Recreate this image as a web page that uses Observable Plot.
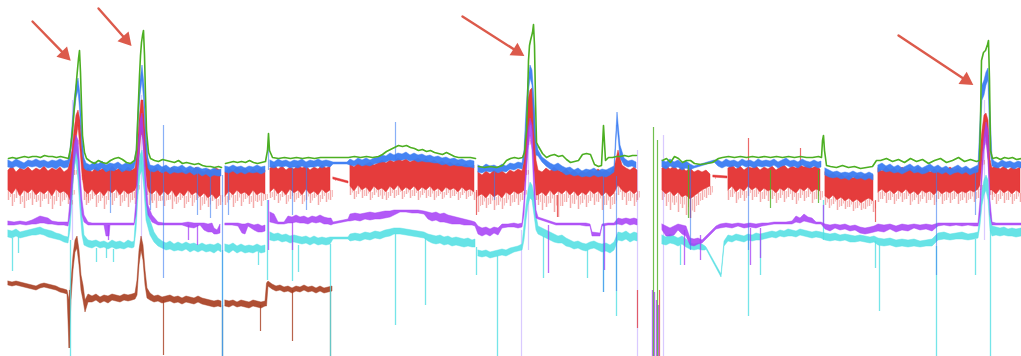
<!DOCTYPE html>
<html>
<head>
<meta charset="utf-8">
<script src="https://cdn.jsdelivr.net/npm/d3@7"></script>
<script src="https://cdn.jsdelivr.net/npm/@observablehq/plot@0.6"></script>
<style>
  html, body { margin: 0; padding: 0; background: #ffffff; }
  #chart { width: 1021px; height: 356px; overflow: hidden; }
</style>
</head>
<body>
<div id="chart"></div>
<script>
// Level units: 0 = top of the trace area, 356 = bottom.
// Rows: [time, top, bottom(, deep)]; a null row breaks the trace.

const redBand = [
  [8,170,190,200],[12,166,194,206],[16,172,188,198],[20,168,196,204],[24,170,190,208],[28,167,193,200],[32,171,189,205],[36,168,195,202],[40,170,191,207],[44,166,194,199],[48,171,190,204],[52,168,196,209],[56,170,189,201],[60,167,193,206],[64,172,191,200],[68,169,195,204],
  [70,160,200,205],[72,150,190,195],[74,130,170,175],[76,115,140,145],[78,110,125,130],[80,120,150,150],[82,150,175,180],[84,165,190,200],[86,170,192,205],
  [88,168,194,203],[92,172,189,199],[96,167,195,207],[100,170,191,201],[104,168,196,209],[108,171,190,200],[112,166,193,205],[116,170,189,198],[120,168,195,206],[124,171,190,201],[128,167,194,207],[132,170,192,200],[135,168,190,204],
  [137,150,185,190],[139,120,160,165],[141,100,130,135],[143,100,140,140],[145,130,165,170],[147,160,185,195],[149,168,192,205],
  [152,170,194,203],[156,167,190,208],[160,172,196,201],[164,168,191,206],[168,171,195,200],[172,167,190,209],[176,170,197,204],[180,168,192,200],[184,172,196,208],[188,169,190,202],[192,171,195,206],[196,167,192,200],[200,170,197,210],[204,172,193,204],[208,169,198,207],[212,171,194,201],[216,168,199,209],[220,170,195,205],
  [223,null,null,null],
  [225,172,196,205],[229,168,191,200],[233,171,195,207],[237,167,190,201],[241,170,194,206],[245,168,192,199],[249,172,196,204],[253,169,190,208],[257,171,195,202],[261,168,192,206],[265,170,194,200],
  [267,null,null,null],
  [270,168,192,198],[274,165,188,200],[278,169,194,203],[282,166,190,197],[286,170,195,204],[290,167,189,199],[294,169,193,202],[298,165,190,198],[302,168,195,204],[306,166,189,200],[310,170,194,203],[314,167,191,198],[318,169,195,205],[322,165,189,199],[326,168,193,202],[330,166,190,200],
  [332,null,null,null],
  [333,177,179,179],[348,181,183,183],
  [349,null,null,null],
  [350,164,186,195],[354,167,191,199],[358,163,185,194],[362,166,190,198],[366,164,187,196],[370,162,192,200],[374,165,186,195],[378,163,190,197],[382,160,188,199],[386,163,192,200],[390,160,186,196],[394,162,190,198],[398,158,185,195],[402,161,191,199],[406,159,187,194],[410,162,190,198],[414,160,186,196],[418,158,191,200],[422,161,187,195],[426,159,190,198],[430,162,186,197],[434,160,191,200],[438,163,188,196],[442,161,192,199],[446,164,187,195],[450,162,190,198],[454,165,188,196],[458,163,192,200],[462,166,187,195],[466,164,191,199],[470,167,189,196],[474,165,192,200],
  [476,null,null,null],
  [478,172,196,212],[482,175,194,205],[486,171,198,208],[490,174,193,204],[494,170,197,210],[498,173,194,205],[502,171,198,209],[506,174,192,203],[510,170,195,206],[514,172,191,202],[518,169,194,205],[522,171,192,200],
  [524,160,190,195],[526,130,170,175],[528,100,140,145],[530,90,120,125],[532,88,130,130],[534,110,170,170],[536,160,195,200],
  [538,170,195,205],[542,172,192,210],[546,168,196,207],[550,171,190,203],[554,167,195,212],[558,170,191,217],[562,172,194,206],[566,169,190,202],[570,173,195,208],[574,170,191,204],[578,174,196,209],[582,171,192,203],[586,173,195,207],[590,170,190,201],[594,172,194,205],[598,169,191,202],[602,172,196,210],[606,170,192,205],[610,173,197,209],[614,168,193,204],[618,150,185,195],[622,165,190,200],[626,168,193,205],[630,170,190,201],[634,167,194,206],[637,170,191,200],
  [640,null,null,null],
  [662,168,190,200],[666,165,194,206],[670,169,191,210],[674,166,196,205],[678,170,192,212],[682,167,197,208],[686,171,195,215],[690,168,199,218],[694,172,196,212],[698,170,193,205],[702,172,190,200],[706,170,188,198],[710,174,186,195],
  [712,null,null,null],
  [713,175,177,177],[727,176,178,178],
  [727.5,null,null,null],
  [728,168,190,200],[732,165,186,197],[736,169,192,203],[740,166,188,198],[744,170,191,201],[748,167,186,196],[752,168,190,200],[756,166,187,197],[760,170,192,202],[764,167,188,199],[768,169,191,201],[772,166,189,199],[776,170,193,203],[780,167,188,198],[784,165,191,202],[788,169,187,197],[792,166,190,200],[796,168,193,204],[800,165,188,198],[804,167,191,201],[808,165,187,197],[812,168,192,203],[816,166,189,199],[820,169,191,200],
  [823,null,null,null],
  [825,172,196,205],[829,175,199,208],[833,173,195,204],[837,176,200,210],[841,174,197,206],[845,177,201,209],[849,175,198,207],[853,178,202,211],[857,175,199,208],[861,177,203,210],[865,174,200,209],[869,176,198,206],[873,175,201,212],
  [876,null,null,null],
  [878,168,192,202],[882,171,189,199],[886,167,193,203],[890,170,190,200],[894,168,194,204],[898,171,190,199],[902,167,193,202],[906,170,189,199],[910,168,194,205],[914,171,191,200],[918,167,195,204],[922,170,190,199],[926,168,193,203],[930,172,191,200],[934,169,195,205],[938,171,190,199],[942,168,194,204],[946,170,191,200],[950,167,193,203],[954,170,190,199],[958,168,194,204],[962,171,191,200],[966,168,193,203],[970,170,190,199],[974,168,192,202],[978,170,189,198],
  [980,150,185,190],[982,130,160,165],[984,115,140,145],[986,113,135,140],[988,120,160,160],[990,160,190,195],
  [992,168,190,200],[996,165,194,204],[1000,169,189,199],[1004,166,193,203],[1008,170,190,200],[1012,167,194,204],[1016,169,190,199],[1020,167,193,202]
];

const blueBand = [
  [8,160,167],[12,162,168],[16,159,166],[20,161,168],[24,163,169],[28,160,166],[32,161,167],[36,159,166],[40,161,168],[44,160,166],[48,162,168],[52,160,167],[56,161,169],[60,159,166],[64,161,168],[68,160,167],
  [70,150,160],[72,125,140],[74,100,115],[76,85,98],[78,78,90],[80,95,115],[82,135,150],[84,158,168],
  [86,163,170],[90,165,171],[94,162,169],[98,164,171],[102,161,168],[106,165,172],[110,163,170],[114,164,171],[118,162,168],[122,165,172],[126,163,170],[130,164,171],[134,162,168],
  [136,150,160],[138,110,125],[140,80,95],[142,65,80],[144,85,105],[146,130,150],[148,158,168],
  [150,165,171],[154,166,172],[158,164,170],[162,167,173],[166,165,171],[170,168,174],[174,166,172],[178,167,173],[182,165,172],[186,168,174],[190,166,172],[194,168,175],[198,167,173],[202,169,176],[206,168,174],[210,170,177],[214,168,175],[218,170,176],[221,169,176],
  [223,null,null],
  [225,166,172],[229,167,173],[233,165,171],[237,167,174],[241,166,172],[245,168,174],[249,166,172],[253,167,173],[257,165,172],[261,167,174],[265,166,172],
  [267,null,null],
  [270,160,167],[274,162,168],[278,159,166],[282,161,167],[286,160,166],[290,162,168],[294,160,167],[298,161,168],[302,159,166],[306,162,168],[310,160,167],[314,161,167],[318,159,166],[322,161,168],[326,160,166],[330,161,167],
  [333,162,164],[347,162,164],
  [350,159,165],[354,161,166],[358,158,164],[362,160,166],[366,158,165],[370,160,166],[374,158,164],[378,157,163],[382,155,162],[386,156,162],[390,153,160],[394,155,161],[398,153,160],[402,154,160],[406,152,159],[410,155,161],[414,153,160],[418,155,162],[422,154,161],[426,156,162],[430,155,162],[434,157,163],[438,156,163],[442,158,165],[446,157,164],[450,159,166],[454,158,165],[458,160,166],[462,159,166],[466,161,167],[470,160,167],[474,161,168],
  [476,null,null],
  [478,165,172],[482,167,173],[486,164,171],[490,166,172],[494,165,171],[498,167,173],[502,164,171],[506,166,172],[510,163,169],[514,164,170],[518,162,168],[522,163,169],
  [524,150,160],[526,110,125],[528,80,95],[530,65,78],[532,70,85],[534,100,130],[536,140,155],
  [538,150,156],[542,157,162],[546,160,166],[550,163,169],[554,165,171],[558,163,170],[562,166,172],[566,168,175],[570,167,174],[574,170,176],[578,168,175],[582,171,177],[586,169,176],[590,170,177],[594,168,175],[598,171,177],[602,169,176],[606,170,177],[610,168,175],[614,166,172],[617,112,125],[620,145,158],[624,158,165],[628,161,167],[632,160,166],[636,162,168],
  [640,null,null],
  [662,160,167],[666,162,169],[670,159,166],[674,162,168],[678,160,167],[682,163,170],[686,161,168],[690,164,170],
  [694,166,168],[714,160,162],
  [718,160,166],[722,162,168],[726,159,166],[730,161,167],[734,160,166],[738,162,168],[742,159,165],[746,161,167],[750,160,166],[754,162,168],[758,159,166],[762,161,167],[766,160,166],[770,161,167],[774,159,165],[778,162,168],[782,160,166],[786,158,165],[790,161,167],[794,160,166],[798,162,168],[802,159,165],[806,161,167],[810,162,168],[814,160,166],[818,162,168],[821,161,167],
  [823,null,null],
  [825,168,175],[829,170,177],[833,172,178],[837,171,177],[841,173,179],[845,172,178],[849,173,180],[853,171,177],[857,173,179],[861,172,178],[865,174,180],[869,172,178],[873,174,180],
  [876,null,null],
  [878,165,172],[882,163,170],[886,166,172],[890,164,171],[894,167,173],[898,165,172],[902,168,174],[906,166,172],[910,164,170],[914,167,173],[918,165,172],[922,168,174],[926,166,173],[930,164,171],[934,167,173],[938,165,172],[942,168,174],[946,166,172],[950,169,175],[954,167,173],[958,165,172],[962,168,174],[966,166,172],[970,169,175],[974,167,173],[978,165,172],
  [980,120,140],[982,85,100],[984,80,95],[986,72,85],[988,68,80],[990,110,150],[992,158,166],
  [994,161,167],[998,163,168],[1002,160,166],[1006,162,168],[1010,161,167],[1014,163,169],[1018,161,167],[1021,162,168]
];

const greenLine = [
  [8,158],[12,157],[16,158],[20,157],[24,156],[28,157],[32,156],[36,156],[40,157],[44,155],[48,156],[52,156],[56,157],[60,156],[64,157],[68,158],
  [70,148],[72,130],[74,105],[76,80],[78,58],[79,50],[80,72],[81,105],[82,135],[84,152],[86,158],
  [90,161],[94,163],[98,160],[102,162],[106,163],[110,160],[114,158],[118,157],[122,159],[126,162],[130,163],[134,160],
  [136,150],[137,125],[138,100],[139,75],[140,55],[141,42],[142,35],[143,30],[144,55],[145,95],[146,130],[148,152],[150,158],
  [154,160],[158,161],[162,159],[166,160],[170,161],[174,162],[178,160],[182,163],[186,162],[190,163],[194,164],[198,163],[202,165],[206,166],[210,166],[214,167],[218,166],[221,167],
  [223,null],
  [225,163],[229,162],[233,161],[237,162],[241,161],[245,162],[249,160],[253,162],[257,163],[261,162],[265,161],[267,150],[268,133],[269,150],
  [272,157],[278,158],[284,157],[290,158],[296,157],[302,158],[308,157],[314,158],[320,157],[326,157],[332,157],[340,157],[348,157],[354,156],[360,157],[366,156],[372,157],[378,156],
  [382,154],[386,151],[390,149],[394,147],[398,145],[402,146],[406,145],[410,147],[414,148],[418,150],[422,149],[426,151],[430,150],[434,152],[438,153],[442,154],[446,152],[450,154],[454,156],[458,157],[464,157],[470,157],[475,158],
  [476,null],
  [478,166],[484,167],[490,166],[496,167],[502,165],[506,160],[510,158],[514,157],[518,158],[522,157],
  [524,152],[526,130],[527,100],[528,60],[529,45],[530,40],[531,36],[532,32],[533,24],[534,45],[535,100],[536,142],
  [538,146],[542,153],[546,157],[550,155],[554,154],[558,156],[562,155],[566,159],[570,162],[574,161],[578,160],[582,154],[586,153],[590,154],[594,164],[598,166],[601,165],[603,125],[605,160],[608,157],[612,157],[616,156],[620,156],[624,155],[628,156],[632,155],[636,155],
  [640,null],
  [662,160],[666,158],[670,162],[674,156],[678,158],[682,162],[686,160],[690,160],[694,163],[700,164],[706,163],[712,162],[718,158],[722,157],[728,156],[734,157],[740,156],[746,157],[752,156],[758,157],[764,156],[770,157],[776,156],[782,157],[788,156],[794,157],[800,156],[806,157],[812,157],[818,156],[821,157],
  [822,140],[823,135],[824,150],
  [826,165],[830,166],[836,167],[842,165],[848,167],[854,166],[860,168],[866,167],[872,166],[876,160],
  [880,160],[886,158],[892,161],[898,159],[904,162],[910,158],[916,161],[922,159],[928,163],[934,160],[940,158],[946,162],[952,160],[958,157],[964,161],[970,159],[976,161],[979,160],
  [980,120],[981,60],[983,52],[985,50],[987,44],[988,40],[989,80],[990,150],
  [992,158],[996,157],[1000,159],[1004,157],[1008,158],[1012,157],[1016,159],[1021,158]
];

const purpleBand = [
  [8,221,225],[14,222,225],[20,221,224],[26,222,225],[32,220,224],[36,218,224],[40,216,223],[44,217,223],[48,218,224],[52,221,224],[58,222,225],[64,222,225],[68,222,226],
  [70,200,215],[72,170,190],[74,145,165],[76,135,150],[78,140,160],[80,170,190],[82,200,215],[84,215,222],[88,222,225],
  [92,223,225],[98,223,225],[104,223,225],[106,223,236],[109,223,236],[110,223,225],[116,223,225],[122,223,225],[128,223,225],[134,223,225],
  [136,200,215],[138,150,170],[140,120,140],[142,113,130],[144,140,165],[146,180,200],[148,205,215],[152,215,222],[158,222,225],
  [164,223,225],[170,223,225],[176,223,225],[182,223,225],[188,222,227],[194,223,228],[200,223,225],[204,223,230],[208,224,232],[212,223,232],[214,228,234],[217,230,234],[220,224,233],
  [223,null,null],
  [225,223,225],[232,223,225],[238,223,226],[242,224,233],[245,224,234],[248,223,226],[254,225,230],[258,224,232],[262,226,232],[265,225,231],
  [267,null,null],
  [270,212,222],[274,214,223],[278,222,224],[284,222,224],[288,216,223],[292,217,223],[296,215,222],[300,217,223],[304,216,223],[308,218,224],[312,216,222],[316,217,223],[320,215,222],[324,217,224],[328,218,224],[331,218,225],
  [333,222,224],[348,219,221],
  [350,214,221],[355,213,220],[360,214,221],[365,213,219],[370,212,220],[375,213,219],[380,212,219],[385,211,218],[390,211,217],[394,210,215],[400,210,212],[406,210,212],[412,210,213],[418,210,213],[424,211,214],[428,212,219],[432,213,221],[436,212,220],[440,214,222],[444,213,222],[448,215,223],[452,216,224],[456,217,224],[460,218,224],[464,219,225],[468,220,225],[472,221,225],[475,222,226],
  [478,226,234],[482,228,236],[486,227,234],[490,229,236],[494,227,233],[498,228,235],[502,224,228],[508,224,227],[514,223,227],[518,224,228],[522,223,227],
  [524,200,215],[526,160,180],[528,130,150],[530,118,135],[532,125,150],[534,170,195],[536,210,218],
  [538,217,219],[544,219,221],[550,221,223],[556,223,225],[562,223,225],[568,223,225],[574,223,225],[580,223,225],[586,223,226],[590,224,226],[592,232,236],[600,233,236],[602,224,226],[608,223,225],[614,223,225],[618,218,224],[622,219,225],[626,218,223],[630,219,225],[634,218,224],[637,219,225],
  [640,null,null],
  [662,224,230],[666,226,236],[670,228,236],[674,226,235],[678,224,230],[682,225,234],[686,226,236],[690,238,245],[694,239,246],[698,238,244],
  [702,240,243],[716,226,229],
  [720,224,228],[726,223,227],[732,224,228],[738,223,226],[744,224,228],[750,223,227],[756,224,228],[762,223,226],[768,223,225],[774,222,224],[780,222,224],[786,222,224],[792,221,224],[796,216,222],[800,218,223],[804,214,221],[808,217,222],[812,218,223],[816,222,224],[821,222,224],
  [825,224,229],[830,225,231],[835,224,228],[840,225,230],[845,224,229],[850,226,231],[855,225,230],[860,227,233],[865,228,234],[870,227,233],[874,226,232],
  [878,224,231],[884,225,232],[890,224,229],[896,226,232],[902,224,230],[908,225,231],[914,224,228],[920,225,230],[926,224,229],[932,225,231],[938,223,226],[944,223,225],[950,223,226],[956,223,225],[962,223,226],[968,223,225],[974,223,226],[978,223,226],
  [980,200,215],[982,160,180],[984,135,150],[986,122,140],[988,130,160],[990,200,215],[992,222,225],
  [996,223,225],[1004,223,225],[1012,223,225],[1021,223,225]
];

const cyanBand = [
  [8,230,237],[12,231,238],[16,229,236],[20,232,238],[24,231,237],[28,230,236],[32,229,235],[36,228,235],[40,227,234],[44,229,235],[48,230,237],[52,231,238],[56,233,239],[60,234,240],[64,236,242],[68,237,243],
  [70,210,230],[72,180,200],[74,150,170],[76,140,160],[78,150,180],[80,185,210],[82,215,235],[84,235,245],[88,240,247],
  [92,241,248],[96,240,246],[100,242,248],[104,241,247],[108,243,249],[112,240,247],[116,242,249],[120,241,248],[124,243,249],[128,240,247],[132,242,248],[134,241,247],
  [136,210,230],[138,175,195],[140,155,175],[142,150,170],[144,165,190],[146,200,220],[150,220,235],[154,232,242],[158,238,246],
  [162,241,248],[166,243,250],[170,241,249],[174,244,251],[178,242,250],[182,244,251],[186,242,249],[190,244,252],[194,243,250],[198,245,252],[202,243,250],[206,245,252],[210,244,251],[214,245,253],[218,243,250],[221,245,252],
  [223,null,null],
  [225,244,251],[229,245,253],[233,243,250],[237,246,253],[241,244,251],[245,246,253],[249,245,252],[253,246,253],[257,244,251],[261,246,253],[265,245,252],
  [267,null,null],
  [270,232,240],[274,234,241],[278,233,240],[282,235,242],[286,234,241],[290,236,243],[294,235,242],[298,236,243],[302,237,244],[306,236,243],[310,238,245],[314,236,243],[318,238,245],[322,237,244],[326,238,245],[330,237,244],
  [333,237,239],[348,237,239],
  [350,234,241],[355,233,240],[360,234,241],[365,232,239],[370,233,240],[375,231,238],[380,232,239],[385,230,237],[390,229,236],[394,228,234],[400,228,234],[406,229,235],[412,230,236],[418,231,237],[424,232,238],[428,234,241],[432,235,243],[436,236,244],[440,235,243],[444,237,245],[448,236,244],[452,238,246],[456,237,245],[460,238,246],[464,239,247],[468,238,246],[472,240,247],[475,239,247],
  [476,null,null],
  [478,250,256],[482,251,257],[486,250,256],[490,252,258],[494,251,257],[498,250,256],[502,249,255],[506,250,256],[510,248,254],[514,247,252],[518,246,251],[522,244,250],
  [524,225,240],[526,205,220],[528,190,205],[530,182,198],[532,185,200],[534,195,215],[536,215,230],
  [538,226,234],[542,228,236],[546,230,238],[550,232,240],[554,234,242],[558,236,243],[562,235,243],[566,238,246],[570,240,247],[574,242,249],[578,241,248],[582,243,250],[586,244,251],[590,242,249],[594,241,248],[598,243,250],[602,244,252],[606,243,251],[610,245,253],[614,242,250],[618,232,240],[622,233,241],[626,231,239],[630,234,242],[634,232,240],[637,233,241],
  [640,null,null],
  [662,235,244],[666,237,245],[670,234,243],[674,236,244],[678,238,246],[682,236,244],[686,239,247],[690,243,249],[694,244,250],[698,243,249],[702,244,250],[705,246,250],
  [706,247,249],[721,274,277],[724,241,246],
  [728,235,241],[732,236,242],[736,234,240],[740,235,241],[744,236,242],[748,234,240],[752,235,241],[756,233,240],[760,234,240],[764,233,239],[768,232,238],
  [772,231,237],[776,232,238],[780,230,236],[784,231,237],[788,229,236],[792,230,236],[796,231,237],[800,229,235],[804,230,236],[808,231,237],[812,232,238],[816,231,237],[821,232,238],
  [825,233,240],[830,234,241],[835,233,240],[840,235,241],[845,234,240],[850,235,242],[855,236,242],[860,235,241],[865,236,242],[870,237,243],[874,236,242],
  [878,238,245],[884,239,246],[890,238,245],[896,240,247],[902,239,246],[908,240,247],[914,239,246],[920,241,247],[926,240,246],[932,239,246],[938,233,240],[944,232,239],[950,234,240],[956,233,239],[962,232,239],[968,234,240],[974,233,239],[978,232,238],
  [980,210,225],[982,190,205],[984,180,195],[986,175,190],[988,180,200],[990,210,230],[992,226,236],
  [996,227,235],[1000,228,236],[1004,227,235],[1008,229,236],[1012,228,236],[1016,229,237],[1021,228,236]
];

const brownBand = [
  [8,281,285],[12,282,286],[16,281,285],[20,282,286],[24,283,287],[28,284,288],[32,285,289],[36,286,290],[40,284,288],[44,283,287],[48,284,288],[52,285,289],[56,286,290],[60,288,292],[64,289,293],[67,290,294],
  [69,300,348],[71,280,300],[73,255,270],[75,240,252],[77,236,248],[79,250,265],[81,275,290],[83,285,300],[85,300,312],
  [88,294,302],[92,296,302],[96,294,300],[100,297,303],[104,295,301],[108,296,303],[112,294,300],[116,295,301],[120,296,302],[124,294,300],[128,295,301],[132,294,300],[135,293,299],
  [137,280,295],[139,250,265],[141,236,250],[143,245,260],[145,270,285],[147,288,298],
  [150,293,300],[154,296,302],[158,295,301],[162,297,303],[166,296,302],[170,295,301],[174,297,303],[178,296,302],[182,298,304],[186,296,302],[190,297,303],[194,298,304],[198,296,302],[202,298,304],[206,299,305],[210,300,306],[214,301,307],[218,300,306],[221,301,307],
  [223,null,null],
  [225,300,306],[229,301,307],[233,300,305],[237,302,307],[241,300,306],[245,301,307],[249,302,308],[253,300,306],[257,301,307],[261,302,308],[265,301,306],
  [266.5,283,306],
  [268,281,286],[272,284,289],[276,286,291],[280,285,290],[284,287,292],[288,286,291],[292,288,293],[296,286,291],[300,287,292],[304,285,290],[308,287,292],[312,286,291],[316,288,293],[320,286,291],[324,288,293],[328,287,292],[332,286,291]
];

// Short vertical excursions: [time, from, to]
const cyanSpikes = [[12,238,271],[18,237,253],[70,240,356],[96,248,262],[106,248,258],[113,249,262],[222,250,356],[258,252,265],[267,200,280],[292,243,281],[298,245,272],[330,244,356],[395,234,325],[425,238,305],[476,247,275],[497,256,356],[543,236,278],[587,250,278],[603,250,292],[616,242,316],[680,245,265],[748,240,316],[760,240,275],[823,200,240],[875,241,268],[879,245,311],[936,246,356],[975,239,275],[990,230,356]];
const purpleSpikes = [[108,225,240],[188,225,240],[197,225,245],[268,200,250],[292,222,250],[548,225,273],[604,225,270],[684,230,265],[700,235,260],[750,228,265],[760,228,258],[823,205,225],[652,290,356],[654,292,356],[656,300,356],[658,305,356]];
const blueSpikes = [[110,170,213],[150,170,210],[163,125,278],[197,172,215],[210,172,218],[222,175,356],[228,170,215],[268,140,170],[292,168,215],[306,168,210],[395,122,160],[494,172,200],[603,175,292],[616,176,291],[690,170,250],[748,165,250],[936,172,275],[975,172,215]];
const redSpikes = [[476,190,215],[557,195,217],[637,290,328],[659,290,356],[690,195,218],[748,138,168],[800,148,166],[875,200,222]];
const greenSpikes = [[653,127,356],[657,140,356],[688,165,218],[770,170,208],[818,170,203]];
const brownSpikes = [[69,290,348],[163,300,355],[222,305,356],[260,305,331],[292,290,341],[330,290,356]];
const paleSpikes = [[72,100,240],[141,95,240],[521,230,356],[528,90,250],[637,150,356],[663,135,356],[984,100,240]];

// Annotation arrows: [fromTime, fromLevel, toTime, toLevel]
const arrows = [[32,21,67,57],[98,8,128,42],[462,16,520,53],[898,35,969,82]];

const colors = {
  green: "#4caf22", blue: "#3a7cf2", red: "#e32b2b", purple: "#a53cf6",
  cyan: "#52dfe3", brown: "#a63c1e", pale: "#c9b3ff", arrow: "#dc5a4b"
};

const X = d => d[0];
const band = (data, fill, opacity) =>
  Plot.areaY(data, {x: X, y1: d => d[1], y2: d => d[2], fill, fillOpacity: opacity, stroke: fill, strokeOpacity: opacity, strokeWidth: 0.5});
const spikes = (data, stroke, w = 1.2, op = 0.75) =>
  Plot.ruleX(data, {x: X, y1: d => d[1], y2: d => d[2], stroke, strokeWidth: w, strokeOpacity: op});

// arrowhead direction (degrees clockwise from up) from each arrow's own endpoints
const headAngle = d => Math.atan2(d[2] - d[0], -(d[3] - d[1])) * 180 / Math.PI;
const headBack = (d, k) => {
  const len = Math.hypot(d[2] - d[0], d[3] - d[1]);
  return [d[2] - (d[2] - d[0]) / len * 4, d[3] - (d[3] - d[1]) / len * 4][k];
};

const chart = Plot.plot({
  width: 1021,
  height: 356,
  margin: 0,
  style: {background: "#ffffff"},
  x: {domain: [0, 1021], range: [0, 1021], axis: null},
  y: {domain: [0, 356], range: [0, 356], axis: null},
  marks: [
    spikes(paleSpikes, colors.pale, 1.2, 0.7),
    Plot.ruleX(redBand, {x: X, y1: d => d[2], y2: d => d[3], stroke: colors.red, strokeOpacity: 0.4, strokeWidth: 1.5}),
    Plot.ruleX(redBand, {x: d => d[0] + 2, y1: d => d[2], y2: d => (d[2] + d[3]) / 2 + 2, stroke: colors.red, strokeOpacity: 0.3, strokeWidth: 1}),
    band(redBand, colors.red, 0.92),
    spikes(redSpikes, colors.red, 1.2, 0.7),
    band(brownBand, colors.brown, 0.9),
    spikes(brownSpikes, colors.brown, 1.2, 0.8),
    band(cyanBand, colors.cyan, 0.88),
    spikes(cyanSpikes, colors.cyan, 1.3, 0.8),
    band(purpleBand, colors.purple, 0.85),
    spikes(purpleSpikes, colors.purple, 1.3, 0.75),
    band(blueBand, colors.blue, 0.95),
    spikes(blueSpikes, colors.blue, 1.2, 0.6),
    Plot.line(greenLine, {x: X, y: d => d[1], stroke: colors.green, strokeWidth: 1.6}),
    spikes(greenSpikes, colors.green, 1.2, 0.8),
    Plot.arrow(arrows, {x1: d => d[0], y1: d => d[1], x2: d => d[2], y2: d => d[3], stroke: colors.arrow, strokeWidth: 2.4, headLength: 0, insetEnd: 6}),
    Plot.dot(arrows, {x: d => headBack(d, 0), y: d => headBack(d, 1), symbol: "triangle", r: 5.5, rotate: headAngle, fill: colors.arrow, stroke: "none"})
  ]
});
document.getElementById("chart").appendChild(chart);
</script>
</body>
</html>
